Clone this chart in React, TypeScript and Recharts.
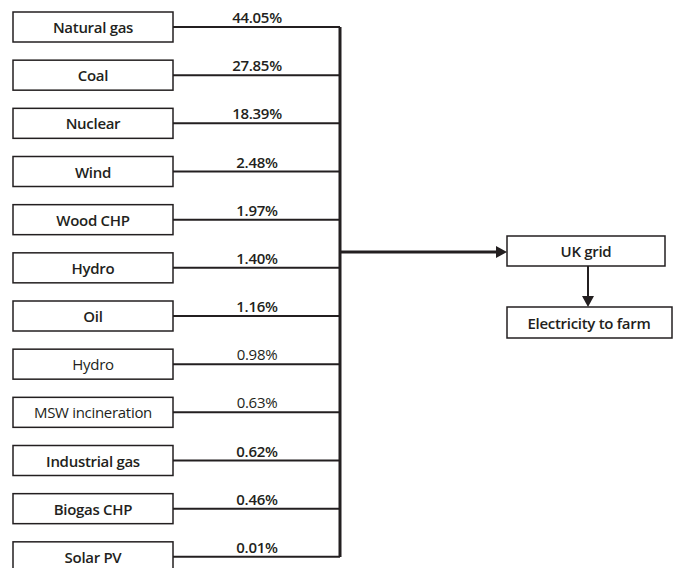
import { ComposedChart, Bar, XAxis, YAxis, ReferenceLine, Customized } from "recharts";

const sources = [
  "Natural gas",
  "Coal",
  "Nuclear",
  "Wind",
  "Wood CHP",
  "Hydro",
  "Oil",
  "Hydro",
  "MSW incineration",
  "Industrial gas",
  "Biogas CHP",
  "Solar PV",
];
const shares = [44.05, 27.85, 18.39, 2.48, 1.97, 1.4, 1.16, 0.98, 0.63, 0.62, 0.46, 0.01];
const gridLabel = "UK grid";
const farmLabel = "Electricity to farm";

const rows = sources.map((name, i) => ({ key: `${i}-${name}`, name, share: shares[i] }));

// rows set in regular weight in the original figure
const LIGHT_ROWS = [7, 8];

const INK = "#231f20";
const FONT = "'Open Sans', 'Noto Sans', sans-serif";
const FONT_SIZE = 15;
const BOX_X = 13;
const BOX_W = 160;
const BOX_H = 30;
const BUS_X = 340;
const LABEL_X = 257;

const SourceRow = (props: any) => {
  const { y, height, payload, index } = props;
  const cy = y + height / 2;
  const weight = LIGHT_ROWS.includes(index) ? 400 : 600;
  return (
    <g>
      <rect
        x={BOX_X}
        y={cy - BOX_H / 2}
        width={BOX_W}
        height={BOX_H}
        fill="#fff"
        stroke={INK}
        strokeWidth={1.5}
      />
      <text
        x={BOX_X + BOX_W / 2}
        y={cy}
        dy="0.4em"
        textAnchor="middle"
        fontFamily={FONT}
        fontSize={FONT_SIZE}
        fontWeight={weight}
        letterSpacing={-0.3}
        fill={INK}
      >
        {payload.name}
      </text>
      <line x1={BOX_X + BOX_W} x2={BUS_X} y1={cy} y2={cy} stroke={INK} strokeWidth={2} />
      <text
        x={LABEL_X}
        y={cy - 4}
        textAnchor="middle"
        fontFamily={FONT}
        fontSize={FONT_SIZE}
        fontWeight={weight}
        letterSpacing={-0.3}
        fill={INK}
      >
        {payload.share.toFixed(2)}%
      </text>
    </g>
  );
};

const GridPart = () => (
  <g fontFamily={FONT} fill={INK}>
    <line x1={BUS_X} x2={498} y1={252} y2={252} stroke={INK} strokeWidth={3} />
    <polygon points="507,252 496,246 496,258" fill={INK} />
    <rect x={507} y={236} width={158} height={30} fill="#fff" stroke={INK} strokeWidth={1.5} />
    <text
      x={586}
      y={251}
      dy="0.4em"
      textAnchor="middle"
      fontSize={FONT_SIZE}
      fontWeight={600}
      letterSpacing={-0.3}
    >
      {gridLabel}
    </text>
    <line x1={588} x2={588} y1={266} y2={298} stroke={INK} strokeWidth={2} />
    <polygon points="588,307 582,296 594,296" fill={INK} />
    <rect x={507} y={307} width={165} height={31} fill="#fff" stroke={INK} strokeWidth={1.5} />
    <text
      x={589}
      y={322.5}
      dy="0.4em"
      textAnchor="middle"
      fontSize={FONT_SIZE}
      fontWeight={600}
      letterSpacing={-0.3}
    >
      {farmLabel}
    </text>
  </g>
);

export default function App() {
  return (
    <div style={{ position: "absolute", left: 0, top: 0, background: "#fff" }}>
      <ComposedChart
        width={678}
        height={568}
        data={rows}
        layout="vertical"
        margin={{ top: 3, right: 0, bottom: -13, left: 0 }}
      >
        <XAxis type="number" domain={[0, 678]} hide />
        <YAxis type="category" dataKey="key" hide />
        <ReferenceLine
          segment={[
            { x: BUS_X, y: rows[0].key },
            { x: BUS_X, y: rows[rows.length - 1].key },
          ]}
          stroke={INK}
          strokeWidth={3}
          ifOverflow="visible"
        />
        <Bar
          dataKey="share"
          barSize={BOX_H}
          minPointSize={2}
          shape={SourceRow}
          isAnimationActive={false}
        />
        <Customized component={GridPart} />
      </ComposedChart>
    </div>
  );
}
